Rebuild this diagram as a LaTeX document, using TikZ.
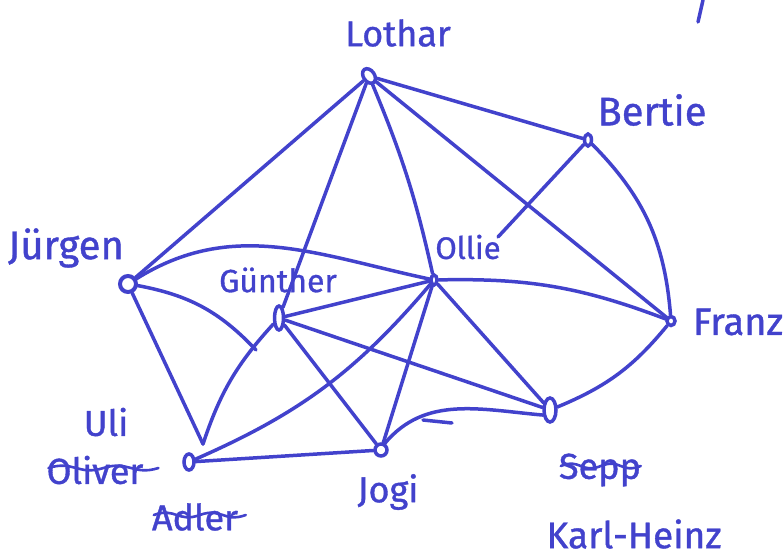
\documentclass[tikz,border=0pt]{standalone}
\usepackage{fontspec}
\setmainfont{Fira Sans}[FakeBold=1]
\usetikzlibrary{shapes.geometric}
\definecolor{ink}{RGB}{66,66,204}
\begin{document}
\begin{tikzpicture}[x=1pt,y=1pt,
  inkline/.style={draw=ink, line width=3.5pt, line cap=round, line join=round},
  edge/.style={inkline},
  vtx/.style={ellipse, draw=ink, line width=3.5pt, inner sep=0pt},
  lbl/.style={text=ink, font=\fontsize{36}{40}\selectfont, inner sep=0pt},
  scrib/.style={draw=ink, line width=2.6pt, line cap=round, line join=round}]
\useasboundingbox (0,0) rectangle (783,-559);
% vertices
\node[vtx, minimum width=11, minimum height=16, rotate=35] (L) at (369,-76) {};
\node[vtx, minimum width=7, minimum height=12] (B) at (588,-140) {};
\node[vtx, circle, minimum size=16, line width=4pt] (J) at (128,-284) {};
\node[vtx, minimum width=9, minimum height=24] (G) at (279,-318) {};
\node[vtx, minimum width=6, minimum height=10] (O) at (434,-280) {};
\node[vtx, minimum width=8, minimum height=9] (F) at (671,-321) {};
\node[vtx, minimum width=10, minimum height=16] (U) at (189,-462) {};
\node[vtx, circle, minimum size=12] (Jo) at (381,-450) {};
\node[vtx, minimum width=12, minimum height=24] (S) at (550,-410) {};
% labels
\node[lbl] (lL) at (398,-33) {Lothar};
\node[lbl, font=\fontsize{40}{44}\selectfont] (lB) at (652,-110) {Bertie};
\node[lbl, font=\fontsize{40}{44}\selectfont] (lJ) at (66,-248) {Jürgen};
\node[lbl, font=\fontsize{32}{36}\selectfont] (lG) at (278,-280) {Günther};
\node[lbl, font=\fontsize{31}{34}\selectfont] (lO) at (468,-247) {Ollie};
\node[lbl, font=\fontsize{38}{42}\selectfont] (lF) at (738,-322) {Franz};
\node[lbl] (lU) at (106,-422) {Uli};
\node[lbl] (lOl) at (95,-470) {Oliver};
\node[lbl] (lA) at (195,-517) {Adler};
\node[lbl] (lJo) at (388,-492) {Jogi};
\node[lbl] (lS) at (600,-470) {Sepp};
\node[lbl, font=\fontsize{37}{41}\selectfont] (lK) at (634,-534) {Karl-Heinz};
% free ends
\coordinate (js) at (256,-350);
\coordinate (uv) at (203,-444);
\coordinate (ob) at (498,-237);
% edges
\draw[edge] (J) to[out=32,in=168] (O);
\draw[edge] (J) -- (L);
\draw[edge] (J) to[bend left=18] (js);
\draw[edge] (J) -- (uv);
\draw[edge] (G) to[bend right=12] (uv);
\draw[edge] (U) to[bend right=13] (O);
\draw[edge] (U) -- (Jo);
\draw[edge] (G) -- (O);
\draw[edge] (G) -- (S);
\draw[edge] (G) -- (Jo);
\draw[edge] (G) -- (L);
\draw[edge] (O) to[bend right=5] (L);
\draw[edge] (O) -- (Jo);
\draw[edge] (O) to[bend left=11] (F);
\draw[edge] (O) -- (S);
\draw[edge] (B) -- (ob);
\draw[edge] (L) -- (B);
\draw[edge] (L) -- (F);
\draw[edge] (B) to[bend left=20] (F);
\draw[edge] (F) to[bend left=14] (S);
\draw[edge] (Jo.60) to[out=50,in=175] (S.215);
% stray marks
\draw[inkline] (703,0) -- (698,-22);
\draw[inkline] (423,-420) -- (452,-423);
% cross-outs
\draw[scrib] (lOl.west) ++(2,2) .. controls ++(25,8) and ++(-25,-8) .. ++(55,0) .. controls ++(25,8) and ++(-25,-8) .. ++(55,0);
\draw[scrib] (lA.west) ++(2,2) .. controls ++(22,8) and ++(-22,-8) .. ++(46,0) .. controls ++(22,8) and ++(-22,-8) .. ++(46,0);
\draw[scrib] (lS.west) ++(2,4) .. controls ++(20,8) and ++(-20,-8) .. ++(40,0) .. controls ++(20,8) and ++(-20,-8) .. ++(40,0);
\end{tikzpicture}
\end{document}
